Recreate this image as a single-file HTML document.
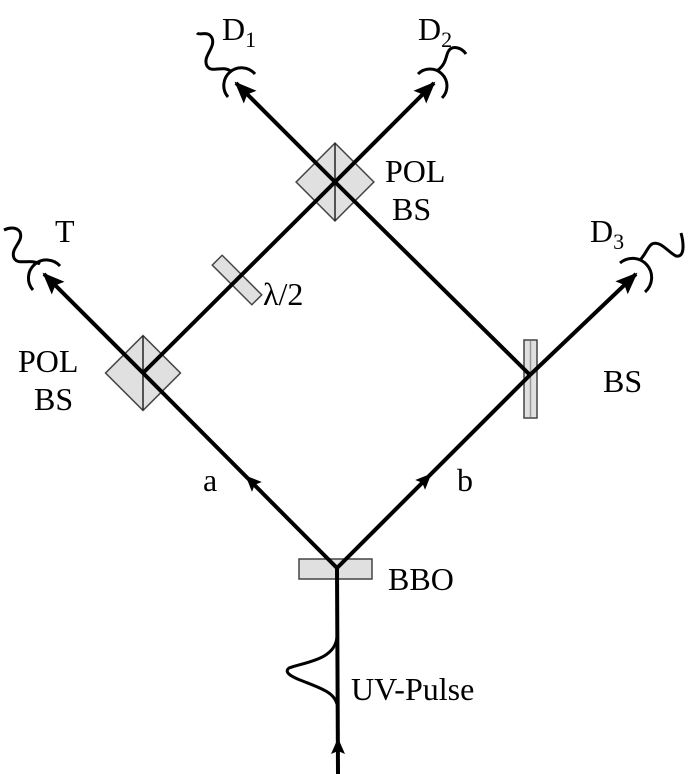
<!DOCTYPE html>
<html><head><meta charset="utf-8"><style>
html,body{margin:0;padding:0;background:#fff;}
svg{display:block;}
text{font-family:"Liberation Serif","DejaVu Serif",serif;font-size:32px;fill:#000;}
</style></head><body>
<svg width="689" height="774" viewBox="0 0 689 774">
<defs>
<marker id="ah" markerWidth="22" markerHeight="18" refX="20" refY="9" orient="auto" markerUnits="userSpaceOnUse" viewBox="0 0 22 18">
<path d="M0,0 L22,9 L0,18 L4,9 z" fill="#000"/>
</marker>
<marker id="ahs" markerWidth="16" markerHeight="14" refX="14" refY="7" orient="auto" markerUnits="userSpaceOnUse" viewBox="0 0 16 14">
<path d="M0,0 L16,7 L0,14 L3,7 z" fill="#000"/>
</marker>
</defs>
<!-- BBO crystal -->
<rect x="299" y="559" width="73" height="20" fill="#e0e0e0" stroke="#444" stroke-width="1.5"/>
<!-- BS plate -->
<rect x="524" y="340" width="13" height="78" fill="#e0e0e0" stroke="#444" stroke-width="1.5"/>
<line x1="530.5" y1="341" x2="530.5" y2="417" stroke="#999" stroke-width="1.5"/>
<!-- half wave plate -->
<rect x="-7" y="-28" width="14" height="56" fill="#e0e0e0" stroke="#444" stroke-width="1.5" transform="translate(237,280) rotate(-45)"/>
<!-- PBS left -->
<g transform="translate(143,373) rotate(45)">
<rect x="-26.5" y="-26.5" width="53" height="53" fill="#e0e0e0" stroke="#444" stroke-width="1.5"/>
</g>
<line x1="143" y1="336" x2="143" y2="410" stroke="#222" stroke-width="1.5"/>
<!-- PBS top -->
<g transform="translate(335,182) rotate(45)">
<rect x="-27.5" y="-27.5" width="55" height="55" fill="#e0e0e0" stroke="#444" stroke-width="1.5"/>
</g>
<line x1="335" y1="143" x2="335" y2="221" stroke="#222" stroke-width="1.5"/>
<g stroke="#000" stroke-width="4" fill="none">
<line x1="338" y1="774" x2="337" y2="568"/>
<line x1="338" y1="760" x2="338" y2="740" marker-end="url(#ahs)" stroke-width="3"/>
<line x1="337" y1="568" x2="143" y2="373"/>
<line x1="262" y1="492" x2="247" y2="477" marker-end="url(#ahs)" stroke-width="3"/>
<line x1="337" y1="568" x2="530" y2="375"/>
<line x1="414" y1="491" x2="430" y2="475" marker-end="url(#ahs)" stroke-width="3"/>
<line x1="143" y1="373" x2="44" y2="274" marker-end="url(#ah)"/>
<line x1="143" y1="373" x2="335" y2="182"/>
<line x1="335" y1="182" x2="236" y2="83" marker-end="url(#ah)"/>
<line x1="335" y1="182" x2="434" y2="83" marker-end="url(#ah)"/>
<line x1="335" y1="182" x2="530" y2="375"/>
<line x1="530" y1="375" x2="636" y2="274" marker-end="url(#ah)"/>
</g>
<!-- UV pulse -->
<path d="M337,637 C335,660 305,662 289,668 C284,672 290,676 300,680 C320,688 334,692 337,704" stroke="#000" stroke-width="3" fill="none"/>
<!-- detectors -->
<g stroke="#000" stroke-width="3" fill="none">
<g>
<path d="M228,97 A16,16 0 0 1 255,74"/>
<path d="M232,72 C222,64 212,74 207,66 C202,56 216,48 212,38 C208,30 200,36 197,33"/>
</g>
<g>
<path d="M418,74 A16,16 0 0 1 442,98"/>
<path d="M438,70 C446,64 446,56 448,52 C452,44 462,48 466,54"/>
</g>
<g>
<path d="M33,290 A16,16 0 0 1 60,266"/>
<path d="M40,264 C30,258 18,266 14,258 C10,248 24,242 20,232 C16,226 8,228 4,230"/>
</g>
<g>
<path d="M620,263 A16,16 0 0 1 645,292"/>
<path d="M640,260 C646,254 648,246 652,244 C660,240 668,252 676,256 C686,258 683,240 681,233"/>
</g>
</g>
<!-- labels -->
<text x="222" y="40">D<tspan font-size="22" dy="7">1</tspan></text>
<text x="418" y="40">D<tspan font-size="22" dy="7">2</tspan></text>
<text x="590" y="242">D<tspan font-size="22" dy="7">3</tspan></text>
<text x="55" y="242">T</text>
<text x="385" y="182">POL</text>
<text x="392" y="220">BS</text>
<text x="18" y="372">POL</text>
<text x="34" y="410">BS</text>
<text x="263" y="305">λ/2</text>
<text x="603" y="392">BS</text>
<text x="203" y="491">a</text>
<text x="457" y="491">b</text>
<text x="388" y="590">BBO</text>
<text x="351" y="700">UV-Pulse</text>
</svg>
</body></html>
